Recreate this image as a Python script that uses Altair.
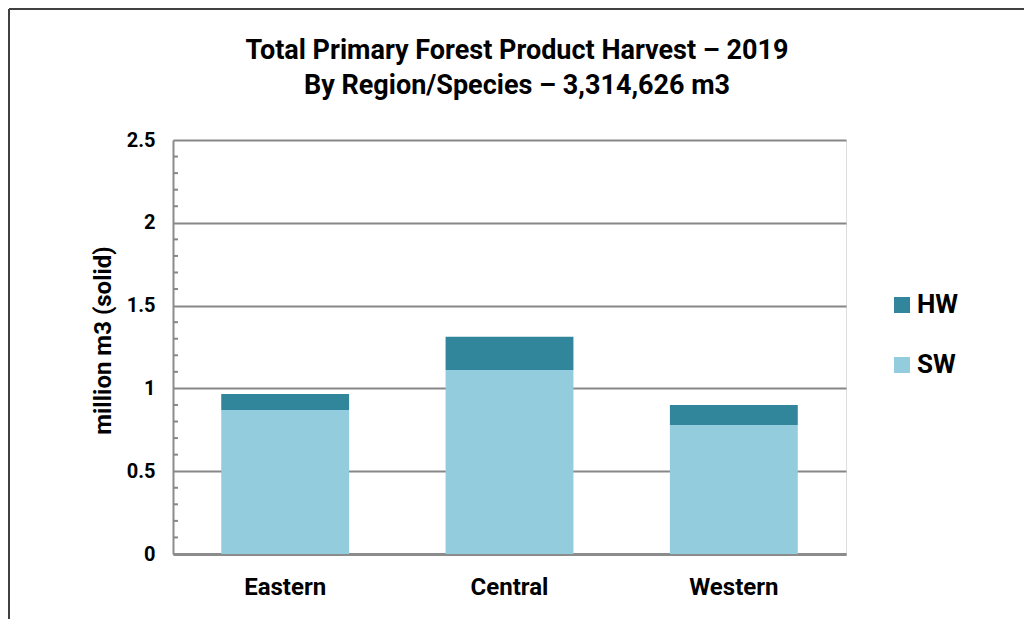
import altair as alt
import pandas as pd

regions = ["Eastern", "Central", "Western"]
sw_values = [0.870, 1.111, 0.779]
hw_values = [0.096, 0.201, 0.121]
species = ["HW", "SW"]
species_colors = ["#31869B", "#93CDDD"]
major_ticks = [0, 0.5, 1, 1.5, 2, 2.5]
minor_ticks = [0.1, 0.2, 0.3, 0.4, 0.6, 0.7, 0.8, 0.9, 1.1, 1.2, 1.3, 1.4,
               1.6, 1.7, 1.8, 1.9, 2.1, 2.2, 2.3, 2.4]
title_line1 = "Total Primary Forest Product Harvest – 2019"
title_line2 = "By Region/Species – 3,314,626 m3"

rows = []
for r, sw, hw in zip(regions, sw_values, hw_values):
    rows.append({"region": r, "species": "SW", "value": sw, "ord": 0})
    rows.append({"region": r, "species": "HW", "value": hw, "ord": 1})
df = pd.DataFrame(rows)
minor_df = pd.DataFrame({"v": minor_ticks})
one = pd.DataFrame({"k": [0]})

W, H = 673, 414
yscale = alt.Scale(domain=[0, 2.5], nice=False)

bars = alt.Chart(df).mark_bar().encode(
    x=alt.X("region:N", sort=regions,
            scale=alt.Scale(paddingInner=0.43, paddingOuter=0.215),
            axis=alt.Axis(title=None, labelAngle=0, labelFont="Roboto",
                          labelFontWeight="bold", labelFontSize=24,
                          labelColor="#000000", labelPadding=21,
                          ticks=False, domainColor="#8C8C8C",
                          domainWidth=3)),
    y=alt.Y("value:Q", stack="zero", scale=yscale,
            axis=alt.Axis(title="million m3 (solid)", values=major_ticks,
                          labelExpr="datum.value == 0 ? '0' : format(datum.value, '.1~f')",
                          titleFont="Roboto", titleFontWeight="bold",
                          titleFontSize=24, titleColor="#000000",
                          titlePadding=11, titleY=200,
                          labelFont="Roboto", labelFontWeight="bold",
                          labelFontSize=20, labelColor="#000000",
                          labelPadding=18, ticks=False,
                          domainColor="#8C8C8C", domainWidth=2,
                          grid=True, gridColor="#878787", gridWidth=2)),
    color=alt.Color("species:N",
                    scale=alt.Scale(domain=species, range=species_colors),
                    legend=alt.Legend(title=None, orient="none",
                                      legendX=716, legendY=152,
                                      symbolType="square", symbolSize=256,
                                      symbolStrokeWidth=0,
                                      labelFont="Roboto", labelFontWeight="bold",
                                      labelFontSize=26, labelColor="#000000",
                                      rowPadding=34, labelOffset=2)),
    order=alt.Order("ord:Q", sort="ascending"),
)

minor = alt.Chart(minor_df).mark_rule(color="#878787", strokeWidth=2).encode(
    y=alt.Y("v:Q", scale=yscale),
    x=alt.value(0), x2=alt.value(5),
)

frame_top = alt.Chart(one).mark_rule(color="#404040", strokeWidth=2).encode(
    x=alt.value(-164), x2=alt.value(W + 180), y=alt.value(-131),
)
frame_left = alt.Chart(one).mark_rule(color="#404040", strokeWidth=2).encode(
    x=alt.value(-164), y=alt.value(-131), y2=alt.value(H + 70),
)

title_style = dict(font="Roboto", fontWeight="bold", fontSize=27,
                   color="#000000", align="center", baseline="alphabetic")
t1 = alt.Chart(one).mark_text(**title_style).encode(
    x=alt.value(344), y=alt.value(-81), text=alt.value(title_line1))
t2 = alt.Chart(one).mark_text(**title_style).encode(
    x=alt.value(344), y=alt.value(-46), text=alt.value(title_line2))

chart = alt.layer(bars, minor, frame_top, frame_left, t1, t2).properties(
    width=W, height=H,
    autosize=alt.AutoSizeParams(type="none"),
    padding={"left": 165, "top": 132, "right": 178, "bottom": 65},
).configure_view(stroke=None).configure(background="#FFFFFF")

chart.save("out.html", embed_options={"renderer": "svg", "actions": False})
